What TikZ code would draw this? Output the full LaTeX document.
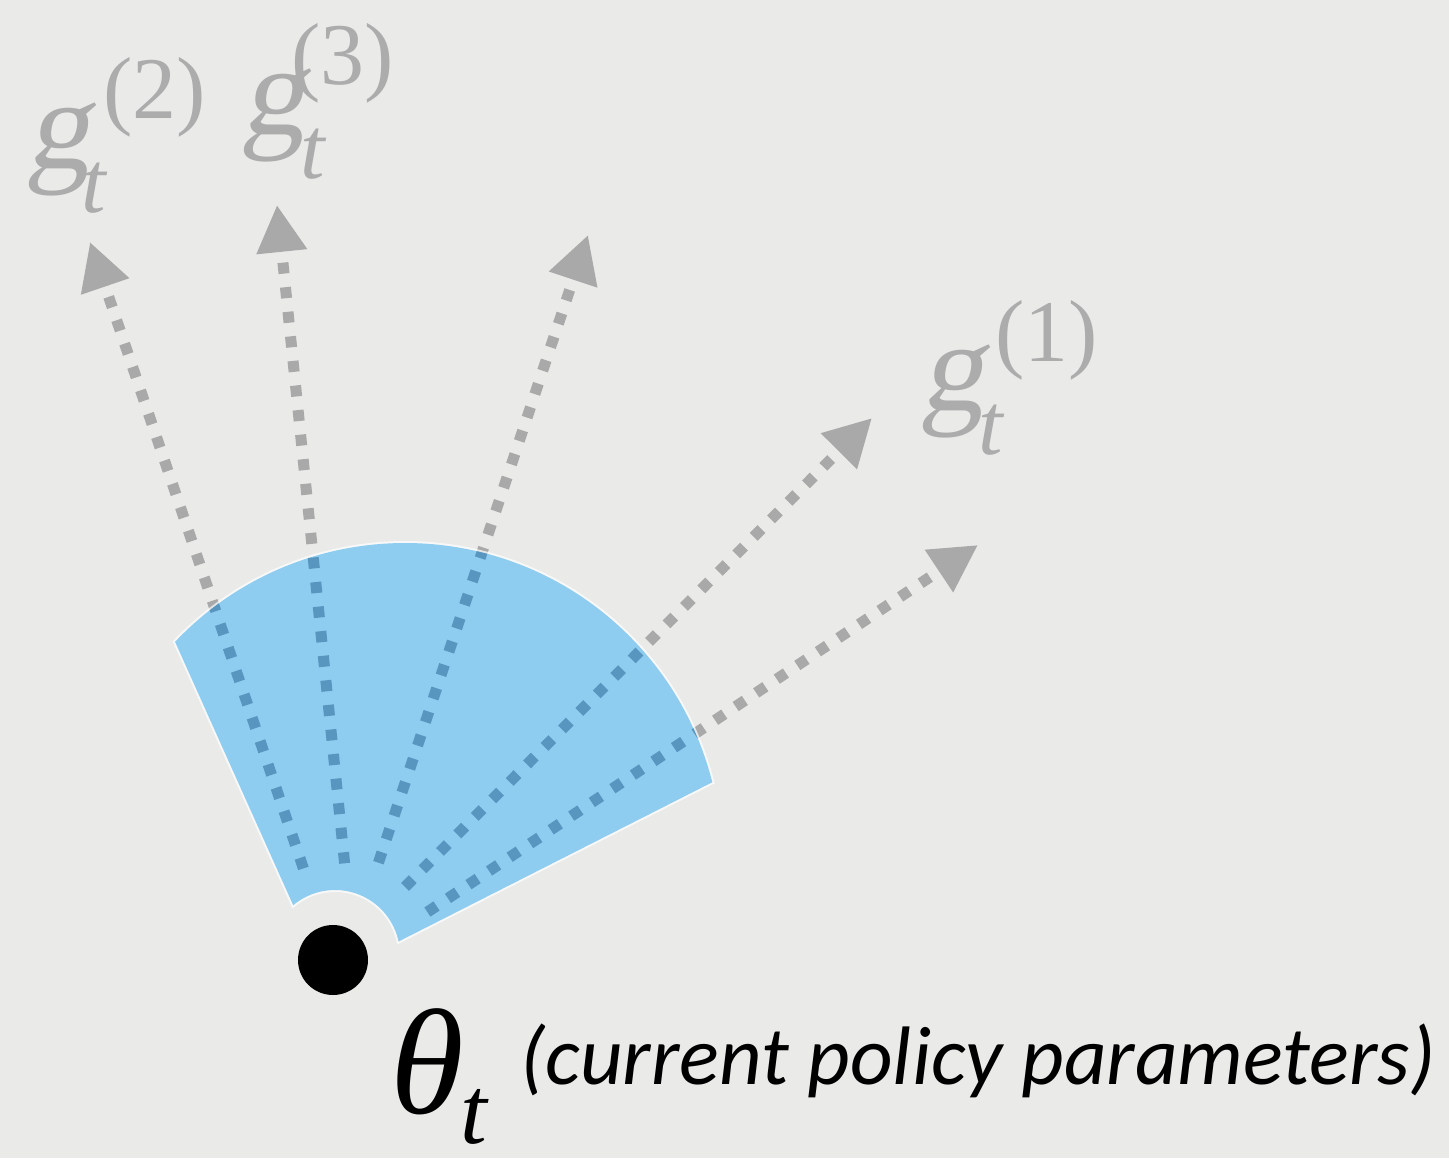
\documentclass[tikz,border=0pt]{standalone}
\usepackage{fontspec}
\usetikzlibrary{arrows.meta}
\newfontfamily\tms{Liberation Serif}
\newfontfamily\tmsslant[FakeSlant=0.18]{Liberation Serif}
\newfontfamily\carl{Carlito}
\definecolor{bgc}{RGB}{234,234,232}
\definecolor{wedgeblue}{RGB}{142,204,240}
\definecolor{dotblue}{RGB}{88,150,192}
\definecolor{arrowgray}{RGB}{169,169,169}
\definecolor{labelgray}{RGB}{172,172,172}
\newcommand{\gscr}{\fontsize{44}{50}\selectfont}
\newcommand{\glab}[3]{\rlap{{\tmsslant\upshape g}}\rlap{\kern#2\raisebox{-22pt}{\gscr t}}\kern#3\raisebox{25pt}{\gscr\upshape(#1)}}
\newcommand{\wedgepath}{([shift={(405,298)}]136.5:317) arc[start angle=136.5, end angle=14.2, radius=317] -- ([shift={(335,203)}]12:65) arc[start angle=12, end angle=130, radius=65] -- cycle}
\tikzset{
  gline/.style={draw=arrowgray, line width=5.5pt, dash pattern=on 5.5pt off 6.85pt, dash phase=5.5pt,
    arrows={Triangle[length=23.5pt, width=24pt]-}},
  glabel/.style={anchor=base west, inner sep=0pt, text=labelgray, font=\tms\itshape\fontsize{64}{70}\selectfont},
}
\begin{document}
\begin{tikzpicture}[x=0.5pt,y=0.5pt]
\fill[bgc] (0,0) rectangle (1449,1158);
\useasboundingbox (0,0) rectangle (1449,1158);
% coordinates
\coordinate (s1) at (305,285); \coordinate (t1) at (90,916);
\coordinate (s2) at (345,291); \coordinate (t2) at (277,953);
\coordinate (s3) at (377,291); \coordinate (t3) at (588,923);
\coordinate (s4) at (402,268); \coordinate (t4) at (872,740);
\coordinate (s5) at (423,243); \coordinate (t5) at (978,613);
% gradient directions (gray, outside wedge)
\foreach \i in {1,...,5} { \draw[gline] (t\i) -- (s\i); }
% wedge
\draw[white, line width=2pt, opacity=0.7] \wedgepath;
\fill[wedgeblue] \wedgepath;
\begin{scope}
  \clip \wedgepath;
  \foreach \i in {1,...,5} { \draw[gline, draw=dotblue] (t\i) -- (s\i); }
\end{scope}
% current parameters
\node[circle, fill=black, minimum size=35pt, inner sep=0pt] (theta) at (333,198) {};
% labels
\node[glabel] (g2) at (26,989) {\glab{2}{27.5pt}{38.5pt}};
\node[glabel] (g3) at (241,1023) {\glab{3}{29.5pt}{25pt}};
\node[glabel] (g1) at (920,747) {\glab{1}{29pt}{37.5pt}};
\node[anchor=base west, inner sep=0pt, font=\tms\itshape\fontsize{75}{80}\selectfont] (thetalab) at (390,45)
  {\rlap{θ}\kern35pt\raisebox{-15pt}{\fontsize{48}{50}\selectfont t}};
\node[anchor=base west, inner sep=0pt, font=\carl\itshape\fontsize{41.5}{48}\selectfont] (desc) at (520,74)
  {(current policy parameters)};
\end{tikzpicture}
\end{document}
